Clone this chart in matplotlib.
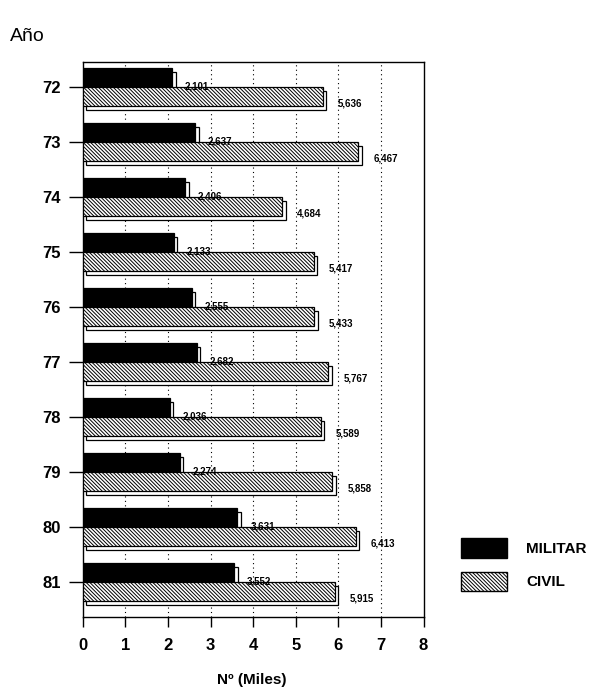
import numpy as np
import matplotlib.pyplot as plt
from matplotlib.patches import Patch

plt.rcParams['font.family'] = ['Liberation Sans', 'DejaVu Sans']
plt.rcParams['hatch.linewidth'] = 0.7

# Data (thousands)
years = ['72', '73', '74', '75', '76', '77', '78', '79', '80', '81']
militar = [2.101, 2.637, 2.406, 2.133, 2.555, 2.682, 2.036, 2.274, 3.631, 3.552]
civil = [5.636, 6.467, 4.684, 5.417, 5.433, 5.767, 5.589, 5.858, 6.413, 5.915]

fig = plt.figure(figsize=(6, 6.93), dpi=100)
ax = fig.add_axes([0.138, 0.110, 0.568, 0.800])

pos = np.arange(len(years))
h = 0.35
dx, dy = 0.08, 0.07
hatch = '\\' * 9

# depth (3D look) drawn behind the bars
ax.barh(pos - h / 2 + dy, militar, height=h, left=dx, color='white',
        edgecolor='black', linewidth=0.9, zorder=2)
ax.barh(pos + h / 2 + dy, civil, height=h, left=dx, color='white',
        edgecolor='black', linewidth=0.9, zorder=2)

ax.barh(pos - h / 2, militar, height=h, color='black', edgecolor='black',
        linewidth=0.9, zorder=3)
ax.barh(pos + h / 2, civil, height=h, color='white', edgecolor='black',
        hatch=hatch, linewidth=0.9, zorder=3)

for p, m, c in zip(pos, militar, civil):
    ax.text(m + 0.3, p - 0.02, f'{m:.3f}'.replace('.', ','), fontsize=7,
            fontweight='bold', va='center', ha='left', zorder=4)
    ax.text(c + 0.35, p + h / 2 + 0.12, f'{c:.3f}'.replace('.', ','),
            fontsize=7, fontweight='bold', va='center', ha='left', zorder=4)

ax.set_xlim(0, 8)
ax.set_ylim(9.63, -0.45)
ax.set_xticks(range(9))
ax.set_xticklabels([str(i) for i in range(9)], fontsize=12, fontweight='bold')
ax.set_yticks(pos)
ax.set_yticklabels(years, fontsize=12, fontweight='bold')
ax.tick_params(axis='x', direction='out', length=7, width=1, pad=8)
ax.tick_params(axis='y', direction='out', length=10, width=1, pad=6)
for x in range(1, 8):
    ax.axvline(x, color='black', linestyle=(0, (1, 3)), linewidth=0.8, zorder=1)
for s in ax.spines.values():
    s.set_linewidth(1)

fig.text(0.42, 0.019, 'Nº (Miles)', fontsize=11, fontweight='bold',
         ha='center', va='center')
fig.text(0.017, 0.947, 'Año', fontsize=14, ha='left', va='center')

handles = [Patch(facecolor='black', edgecolor='black', label='MILITAR'),
           Patch(facecolor='white', edgecolor='black', hatch=hatch, label='CIVIL')]
fig.legend(handles=handles, loc='center left', bbox_to_anchor=(0.745, 0.185),
           frameon=False, prop={'size': 11, 'weight': 'bold'},
           handlelength=3.0, handleheight=1.6,
           labelspacing=0.9, handletextpad=1.3)

fig.savefig('out.png', dpi=100)
